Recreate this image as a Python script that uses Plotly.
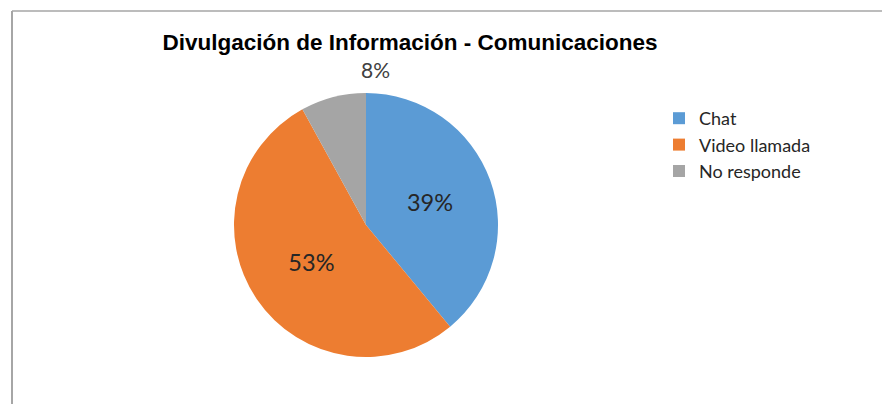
import plotly.graph_objects as go

categories = ["Chat", "Video llamada", "No responde"]
values = [39, 53, 8]
colors = ["#5b9bd5", "#ed7d31", "#a5a5a5"]

W, H = 882, 404

total = sum(values)
# inside labels for the two large slices; the small slice gets its label above the pie
text_templates = ["%{percent:.0%}", "%{percent:.0%}", ""]

fig = go.Figure(go.Pie(
    labels=categories,
    values=values,
    sort=False,
    direction="clockwise",
    rotation=0,
    marker=dict(colors=colors, line=dict(width=0)),
    texttemplate=text_templates,
    textposition="inside",
    insidetextorientation="horizontal",
    textfont=dict(family="Lato", size=23.5, color="#262626"),
    domain=dict(x=[(366 - 132) / W, (366 + 132) / W], y=[1 - 357 / H, 1 - 93 / H]),
    showlegend=True,
    hoverinfo="label+percent",
))

fig.add_annotation(
    xref="paper", yref="paper",
    x=375 / W, y=1 - 69 / H,
    xanchor="center", yanchor="middle",
    text=f"{values[2] / total:.0%}",
    showarrow=False,
    font=dict(family="Lato", size=21, color="#404040"),
)

fig.update_layout(
    width=W, height=H,
    margin=dict(l=0, r=0, t=0, b=0),
    paper_bgcolor="white",
    plot_bgcolor="white",
    title=dict(
        text="<b>Divulgación de Información - Comunicaciones</b>",
        x=410 / W, xanchor="center",
        y=1 - 42 / H, yanchor="middle",
        font=dict(family="Liberation Sans", size=22.5, color="#000000"),
    ),
    legend=dict(
        x=659 / W, xanchor="left",
        y=1 - 100 / H, yanchor="top",
        font=dict(family="Lato", size=18, color="#262626"),
        bgcolor="rgba(0,0,0,0)",
        tracegroupgap=0,
    ),
    shapes=[
        dict(type="line", xref="paper", yref="paper",
             x0=12 / W, x1=1, y0=1 - 11 / H, y1=1 - 11 / H,
             line=dict(color="#a6a6a6", width=1.5)),
        dict(type="line", xref="paper", yref="paper",
             x0=12 / W, x1=12 / W, y0=0, y1=1 - 11 / H,
             line=dict(color="#a6a6a6", width=2)),
    ],
)

fig.write_html(
    "out.html",
    config={"displayModeBar": False},
    post_script="document.body.style.margin='0';",
)
